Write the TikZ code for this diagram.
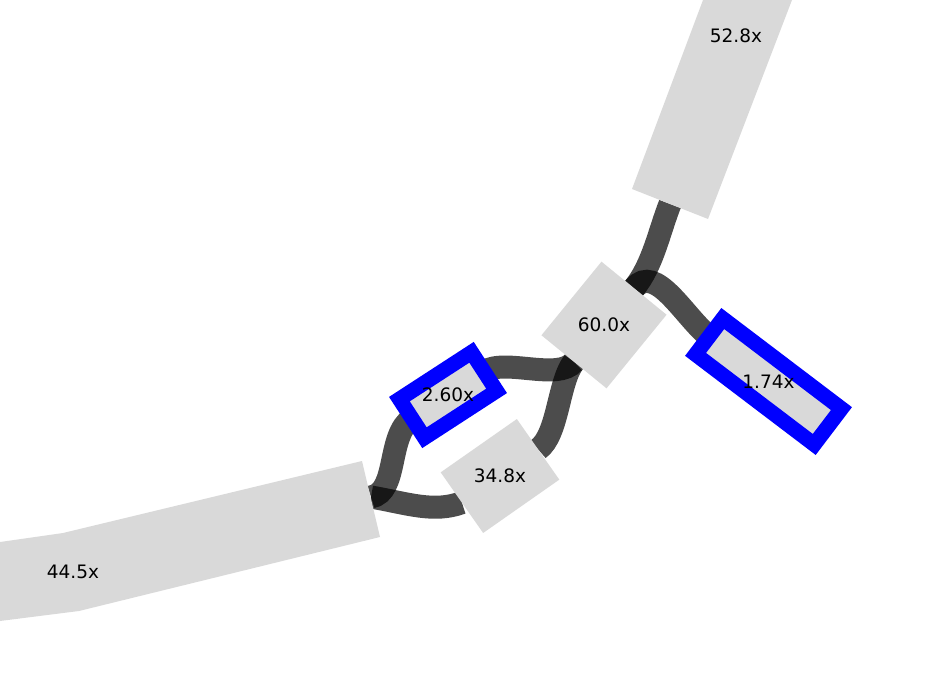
\documentclass[tikz,border=0pt]{standalone}
\usepackage{fontspec}
\setmainfont{DejaVu Sans}
\usetikzlibrary{backgrounds}
\definecolor{boxgray}{HTML}{D9D9D9}
\definecolor{hotblue}{HTML}{0000FF}

\begin{document}
\begin{tikzpicture}[
  x=1pt,y=1pt,
  every node/.style={font=\fontsize{18.5}{22}\selectfont,inner sep=0pt,outer sep=0pt},
  box/.style={fill=boxgray},
  hot/.style={box,draw=hotblue,line width=15pt},
  band/.style={fill=boxgray},
  link/.style={draw=black,draw opacity=0.7,line width=23pt}
]
\useasboundingbox (0,0) rectangle (952,691);
% wide bands
\fill[band] (0,149) -- (63,158) -- (362,230) -- (380,154) -- (79,80) -- (0,70) -- cycle;
\fill[band] (703,691) -- (792,691) -- (708,472) -- (632,502) -- cycle;
\coordinate (lowend) at (371,194);
\coordinate (topend) at (670,487);
\node (t445) at (73,119) {44.5x};
\node (t528) at (736,655) {52.8x};
% boxes
\node[box,minimum width=84pt,minimum height=95pt,rotate=-39.2] (b600) at (604,366) {};
\node[box,minimum width=93pt,minimum height=74pt,rotate=35] (b348) at (500,215) {};
\node[hot,minimum width=86pt,minimum height=46pt,rotate=33] (b260) at (448,296) {};
\node[hot,minimum width=149pt,minimum height=45pt,rotate=-37.2] (b174) at (768.5,309.5) {};
\node (t600) at (b600) {60.0x};
\node (t348) at (b348) {34.8x};
\node (t260) at (b260) {2.60x};
\node (t174) at (b174) {1.74x};
% links
\begin{scope}[on background layer]
\draw[link] (lowend) .. controls +(10:28) and +(213:30) .. (b260.west);
\draw[link] (lowend) .. controls +(-10:38) and +(200:30) .. (b348.west);
\draw[link] (b260.east) .. controls +(33:25) and +(230.8:25) .. (b600.south);
\draw[link] (b348.east) .. controls +(35:25) and +(230.8:25) .. (b600.south);
\draw[link] (topend) .. controls +(248.5:30) and +(50.8:30) .. (b600.north);
\draw[link] (b600.north) .. controls +(50.8:34) and +(142.8:30) .. (b174.west);
\end{scope}
\end{tikzpicture}
\end{document}
